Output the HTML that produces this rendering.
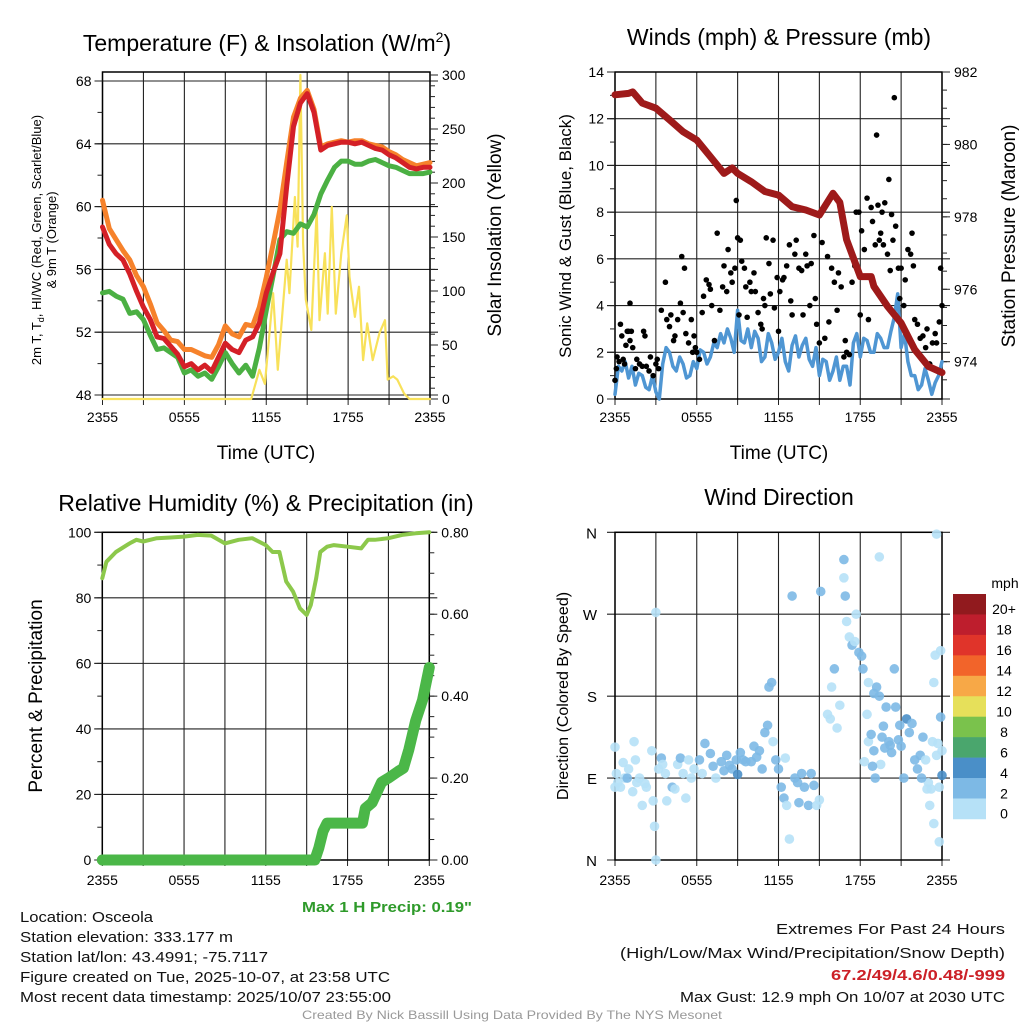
<!DOCTYPE html>
<html><head><meta charset="utf-8"><style>
html,body{margin:0;padding:0;background:#fff;}
svg{display:block;font-family:"Liberation Sans",sans-serif;}
</style></head><body>
<svg id="chart" width="1024" height="1024" viewBox="0 0 1024 1024" xmlns="http://www.w3.org/2000/svg">
<rect width="1024" height="1024" fill="#fff"/>
<g id="layer"></g>
<text x="267" y="51" font-size="23" text-anchor="middle">Temperature (F) &amp; Insolation (W/m<tspan font-size="14" dy="-9">2</tspan><tspan dy="9">)</tspan></text>
<text x="779" y="45" font-size="23" text-anchor="middle">Winds (mph) &amp; Pressure (mb)</text>
<text x="266" y="511" font-size="23" text-anchor="middle">Relative Humidity (%) &amp; Precipitation (in)</text>
<text x="779" y="505" font-size="23" text-anchor="middle">Wind Direction</text>
<text x="266" y="459" font-size="19" text-anchor="middle">Time (UTC)</text>
<text x="779" y="459" font-size="19" text-anchor="middle">Time (UTC)</text>
<text font-size="13" text-anchor="middle" transform="translate(41,240) rotate(-90)">2m T, T<tspan font-size="9" dy="3">d</tspan><tspan dy="-3">, HI/WC (Red, Green, Scarlet/Blue)</tspan></text>
<text font-size="13" text-anchor="middle" transform="translate(56,240) rotate(-90)">&amp; 9m T (Orange)</text>
<text font-size="19" text-anchor="middle" transform="translate(501,235) rotate(-90)">Solar Insolation (Yellow)</text>
<text font-size="17" text-anchor="middle" transform="translate(571,236) rotate(-90)">Sonic Wind &amp; Gust (Blue, Black)</text>
<text font-size="19" text-anchor="middle" transform="translate(1015,236) rotate(-90)">Station Pressure (Maroon)</text>
<text font-size="19" text-anchor="middle" transform="translate(42,696) rotate(-90)">Percent &amp; Precipitation</text>
<text font-size="16" text-anchor="middle" transform="translate(568,696) rotate(-90)">Direction (Colored By Speed)</text>
<text x="302" y="912" font-size="15" font-weight="bold" fill="#2e9a2a" textLength="170" lengthAdjust="spacingAndGlyphs">Max 1 H Precip: 0.19"</text>
<g font-size="15" fill="#111">
<text x="20" y="922" textLength="133" lengthAdjust="spacingAndGlyphs">Location: Osceola</text>
<text x="20" y="942" textLength="213" lengthAdjust="spacingAndGlyphs">Station elevation: 333.177 m</text>
<text x="20" y="962" textLength="248" lengthAdjust="spacingAndGlyphs">Station lat/lon: 43.4991; -75.7117</text>
<text x="20" y="982" textLength="370" lengthAdjust="spacingAndGlyphs">Figure created on Tue, 2025-10-07, at 23:58 UTC</text>
<text x="20" y="1002" textLength="371" lengthAdjust="spacingAndGlyphs">Most recent data timestamp: 2025/10/07 23:55:00</text>
<text x="776" y="934" textLength="229" lengthAdjust="spacingAndGlyphs">Extremes For Past 24 Hours</text>
<text x="620" y="958" textLength="385" lengthAdjust="spacingAndGlyphs">(High/Low/Max Wind/Precipitation/Snow Depth)</text>
<text x="831" y="980" fill="#cc2027" font-weight="bold" textLength="174" lengthAdjust="spacingAndGlyphs">67.2/49/4.6/0.48/-999</text>
<text x="680" y="1002" textLength="325" lengthAdjust="spacingAndGlyphs">Max Gust: 12.9 mph On 10/07 at 2030 UTC</text>
</g>
<text x="302" y="1019" font-size="12" fill="#999" textLength="420" lengthAdjust="spacingAndGlyphs">Created By Nick Bassill Using Data Provided By The NYS Mesonet</text>
</svg>
<script>
// ---------- data ----------
const hours = [0,0.5,1,1.5,2,2.5,3,3.5,4,4.5,5,5.5,6,6.5,7,7.5,8,8.5,9,9.5,10,10.5,11,11.5,12,12.5,13,13.5,14,14.5,15,15.5,16,16.5,17,17.5,18,18.5,19,19.5,20,20.5,21,21.5,22,22.5,23,23.5,24];
const tempRed = [58.7,57.6,57.0,56.6,55.7,54.6,53.6,52.8,51.7,51.6,51.1,50.6,49.8,50.0,49.6,49.9,49.5,50.4,51.3,50.9,50.7,51.5,51.7,52.6,54.5,55.8,57.0,61.3,65.1,66.6,67.2,66.0,63.6,63.9,64.0,64.1,64.1,64.0,64.1,63.9,63.7,63.6,63.3,63.1,62.8,62.5,62.4,62.5,62.5];
const tempOrange = [60.4,58.6,57.9,57.2,56.6,55.6,54.9,53.8,52.6,52.1,51.5,51.4,50.9,50.9,50.7,50.5,50.4,51.2,52.4,51.9,51.7,52.5,52.4,53.6,55.5,57.6,59.8,62.8,65.7,66.9,67.4,66.2,63.8,64.0,64.1,64.2,64.1,64.2,64.2,64.0,63.9,63.8,63.5,63.3,63.0,62.8,62.6,62.7,62.8];
const tempGreen = [54.5,54.6,54.3,54.1,53.2,53.3,52.8,51.8,50.9,51.0,50.7,50.4,49.4,49.6,49.2,49.4,49.0,49.8,50.7,50.0,49.4,49.9,49.2,51.0,53.4,55.6,57.9,58.4,58.3,58.9,58.7,59.5,60.8,61.7,62.5,62.9,62.9,62.7,62.7,62.9,63.0,62.8,62.6,62.5,62.3,62.1,62.1,62.1,62.2];
const solarTimes = [0,10.9,11.5,11.9,12.5,12.85,13.5,13.7,14.1,14.3,14.5,14.7,14.9,15.3,15.7,15.9,16.3,16.5,16.8,17.1,17.5,17.9,18.1,18.5,18.8,19.1,19.4,19.8,20.3,20.7,20.9,21.3,21.6,22.1,22.5,24];
const solarValues = [0,0,27,14,98,27,129,98,187,141,300,144,92,64,175,73,135,79,178,79,135,170,113,76,104,36,70,36,61,73,18,21,18,5,0,0];
const pressTimes = [0,1,1.3,2,3,4,5,6,7,8,8.6,9,10,11,12,13,14,15,16,16.5,17,18,18.8,19,20,21,22,23,24];
const pressValues = [981.37,981.41,981.45,981.14,981.0,980.68,980.35,980.12,979.66,979.2,979.35,979.2,978.97,978.7,978.6,978.28,978.19,978.05,978.65,978.4,977.37,976.35,976.35,976.08,975.53,975.07,974.33,973.87,973.7];
const windTimes = [0,0.25,0.5,0.75,1,1.25,1.5,1.75,2,2.25,2.5,2.75,3,3.25,3.5,3.75,4,4.25,4.5,4.75,5,5.25,5.5,5.75,6,6.25,6.5,6.75,7,7.25,7.5,7.75,8,8.25,8.5,8.75,9,9.25,9.5,9.75,10,10.25,10.5,10.75,11,11.25,11.5,11.75,12,12.25,12.5,12.75,13,13.25,13.5,13.75,14,14.25,14.5,14.75,15,15.25,15.5,15.75,16,16.25,16.5,16.75,17,17.25,17.5,17.75,18,18.25,18.5,18.75,19,19.25,19.5,19.75,20,20.25,20.5,20.75,21,21.25,21.5,21.75,22,22.25,22.5,22.75,23,23.25,23.5,23.75,24];
const windValues = [0.2,1.4,1.2,1.6,0.9,1.4,0.6,1.1,1.0,0.5,0.4,1.0,0.3,0.0,1.5,2.2,2.0,1.4,1.2,1.8,1.5,0.9,1.0,1.6,1.3,2.1,2.0,1.5,1.8,2.4,2.2,2.8,2.4,3.0,2.6,2.0,3.8,2.5,2.4,3.0,2.2,2.9,2.6,1.6,1.8,2.8,2.4,1.7,2.0,2.6,1.6,1.2,2.3,2.7,1.8,2.3,2.6,1.7,1.4,2.2,1.0,1.7,1.6,0.8,1.2,1.8,0.8,1.4,1.4,0.6,2.4,2.8,1.8,2.6,2.5,2.0,2.0,2.8,2.6,2.2,2.2,2.9,3.5,4.5,2.2,2.8,1.6,1.0,1.0,0.4,0.6,1.3,0.8,0.2,0.7,1.0,1.6];
const gustObs = [[0,0.8],[0.1,1.3],[0.15,1.8],[0.3,1.6],[0.4,3.2],[0.5,2.7],[0.6,1.7],[0.7,1.5],[0.8,2.3],[0.9,2.9],[1.0,2.9],[1.1,2.5],[1.2,2.9],[1.1,4.1],[1.3,2.2],[1.5,1.3],[1.6,1.7],[1.8,1.5],[2.0,1.4],[2.1,2.9],[2.2,2.7],[2.3,1.4],[2.5,1.2],[2.6,1.8],[2.8,1.0],[3.0,1.5],[3.1,1.7],[3.2,1.3],[3.4,3.8],[3.7,5.0],[3.8,3.4],[4.0,3.1],[4.1,3.6],[4.3,2.5],[4.4,2.7],[4.6,3.4],[4.8,4.1],[4.9,6.1],[5.0,3.7],[5.1,5.6],[5.2,2.8],[5.4,2.4],[5.6,3.4],[5.7,2.0],[5.8,2.7],[5.9,2.2],[6.0,2.0],[6.2,1.7],[6.4,3.7],[6.5,4.4],[6.7,5.1],[6.9,4.9],[7.0,4.7],[7.1,4.0],[7.3,2.5],[7.5,7.1],[7.7,3.8],[7.9,4.8],[8.0,5.7],[8.2,4.6],[8.3,6.4],[8.5,5.4],[8.6,5.0],[8.8,5.6],[8.9,8.5],[9.0,6.9],[9.1,3.6],[9.2,6.8],[9.3,5.9],[9.5,5.6],[9.6,4.8],[9.7,3.5],[9.9,5.0],[10.0,4.6],[10.2,5.4],[10.3,4.6],[10.5,3.7],[10.7,3.2],[10.8,3.0],[10.9,4.3],[11.0,4.0],[11.1,6.9],[11.3,5.8],[11.4,4.5],[11.6,6.8],[11.7,3.9],[11.9,5.2],[12.0,2.9],[12.1,4.6],[12.3,5.1],[12.4,5.2],[12.6,5.7],[12.8,6.6],[12.9,4.2],[13.0,3.6],[13.2,6.2],[13.3,6.8],[13.5,5.6],[13.7,5.5],[13.8,3.6],[14.0,6.2],[14.1,5.7],[14.3,4.0],[14.4,5.8],[14.6,7.0],[14.7,4.3],[14.8,3.2],[15.0,2.4],[15.2,6.7],[15.4,2.6],[15.6,6.1],[15.7,3.3],[15.9,5.6],[16.1,5.0],[16.3,3.8],[16.4,5.4],[16.6,4.8],[16.8,1.8],[16.9,2.5],[17.0,2.0],[17.2,1.9],[17.4,5.0],[17.6,5.7],[17.7,8.0],[17.9,8.0],[18.0,3.6],[18.1,7.2],[18.3,6.4],[18.5,8.6],[18.6,3.4],[18.8,8.2],[18.9,7.6],[19.1,6.6],[19.2,11.3],[19.3,8.3],[19.4,6.8],[19.5,7.1],[19.6,8.0],[19.7,6.6],[19.8,8.4],[20.0,6.2],[20.1,9.4],[20.2,5.5],[20.3,7.9],[20.4,6.8],[20.5,12.9],[20.6,7.4],[20.8,5.6],[20.9,4.3],[21.0,5.6],[21.2,4.0],[21.3,5.1],[21.5,6.4],[21.7,6.2],[21.8,7.1],[21.9,5.7],[22.0,3.4],[22.2,3.2],[22.4,2.6],[22.6,2.7],[22.8,2.2],[22.9,3.0],[23.1,1.5],[23.3,2.4],[23.5,2.8],[23.6,2.4],[23.8,3.3],[23.9,5.6],[24.0,4.0]];
const rhTimes = [0,0.3,1,2,2.5,3,4,5,6,7,8,9,10,11,12,12.5,13,13.5,14,14.5,15,15.3,15.7,16,16.5,17,18,19,19.5,20,21,22,23,24];
const rhValues = [86,91,94,96.6,97.7,97.2,98.2,98.4,98.7,99.2,99,96.6,97.7,98.2,96.1,94,94,85,81.9,76.8,74.8,77.8,86,94,95.6,96.1,95.6,95.1,97.7,97.7,98.2,99.2,99.7,100];
const precipTimes = [0,15.6,15.9,16.2,16.5,17,18,19.1,19.3,19.8,20.5,21,21.7,22.1,22.5,23,23.5,24];
const precipValues = [0,0,0.03,0.07,0.09,0.09,0.09,0.09,0.126,0.14,0.19,0.2,0.216,0.224,0.27,0.34,0.39,0.47];
// [hour, degrees, speed mph]
const dirObs = [[0,80,1],[0,124,1],[0.1,95,1],[0.2,85,1],[0.4,80,1],[0.6,107,1],[0.7,90,1],[0.9,90,3],[1.0,100,1],[1.3,75,1],[1.4,130,1],[1.5,110,1],[1.6,85,1],[1.8,90,1],[2.2,84,1],[2.0,60,1],[2.3,80,1],[2.7,120,1],[2.8,65,1],[2.9,37,1],[3.0,272,1],[3.0,0,1],[3.2,100,1],[3.4,112,3],[3.5,105,1],[3.7,95,1],[3.8,65,1],[4.2,80,3],[4.4,78,1],[4.6,105,1],[4.8,112,3],[5.0,95,1],[5.2,68,1],[5.4,110,1],[5.6,90,1],[5.8,100,1],[6.2,110,3],[6.4,95,1],[6.6,128,3],[7.0,117,3],[7.2,103,3],[7.4,90,1],[7.8,108,3],[8.0,98,3],[8.2,115,3],[8.4,104,3],[8.6,100,3],[8.9,110,3],[9.0,94,5],[9.2,118,3],[9.4,110,3],[9.6,108,3],[10.0,108,3],[10.2,125,3],[10.4,113,3],[10.6,120,3],[10.8,100,3],[11.0,140,3],[11.2,148,3],[11.3,190,3],[11.5,195,3],[11.6,130,1],[11.8,110,3],[12.0,100,3],[12.2,80,3],[12.4,68,3],[12.5,112,1],[12.6,60,1],[12.8,23,1],[13.0,290,3],[13.2,90,3],[13.4,85,3],[13.5,63,3],[13.7,95,3],[13.9,80,3],[14.2,60,3],[14.4,95,3],[14.6,82,3],[14.8,60,1],[15.0,66,1],[15.1,295,3],[15.6,160,1],[15.8,155,1],[15.9,190,1],[16.1,210,3],[16.3,145,1],[16.5,170,1],[16.8,330,3],[16.9,290,3],[16.8,310,1],[17.0,262,1],[17.2,245,1],[17.4,236,3],[17.6,240,1],[17.9,228,3],[18.1,224,3],[17.7,270,1],[18.2,210,3],[18.3,108,1],[18.5,160,1],[18.6,130,1],[18.8,138,3],[19.0,120,3],[19.1,90,3],[19.2,190,3],[19.4,333,1],[19.6,135,3],[19.8,123,3],[19.9,168,3],[20.1,130,3],[20.3,118,3],[20.5,210,3],[20.6,168,3],[20.8,132,3],[21.0,125,3],[21.2,90,3],[21.4,155,5],[21.6,140,3],[21.8,150,3],[22.0,110,3],[22.2,100,3],[22.4,115,3],[22.6,135,3],[22.8,110,1],[23.0,85,1],[23.1,60,1],[23.2,78,1],[23.4,40,1],[23.6,115,1],[23.7,128,1],[23.8,80,1],[23.9,157,3],[24.0,93,5],[24.0,120,1],[23.3,130,1],[23.5,225,1],[23.4,195,1],[23.8,20,1],[23.6,358,1],[23.9,230,1],[22.9,78,1],[22.5,90,3],[19.5,105,1],[18.9,103,3],[19.7,147,3],[20.9,148,3],[20.2,126,3],[18.6,195,1],[19.0,183,3],[19.4,180,3]];
const tempTicks = [48,52,56,60,64,68];
const solarTicks = [0,50,100,150,200,250,300];
const windTicks = [0,2,4,6,8,10,12,14];
const pressTicks = [974,976,978,980,982];
const rhTicks = [0,20,40,60,80,100];
const precipTicks = [0,0.2,0.4,0.6,0.8];
const dirTickLabels = ["N","E","S","W","N"];
const timeLabels = ["2355","0555","1155","1755","2355"];
const speedLabels = ["0","2","4","6","8","10","12","14","16","18","20+"];
const speedColors = ["#b6e1f7","#7db9e5","#4a8fc8","#4aa66d","#7ac24c","#e6e05a","#f7a847","#f2642a","#e0342a","#be1e2d","#911a1e"];

// ---------- helpers ----------
const NS="http://www.w3.org/2000/svg";
const layer=document.getElementById('layer');
function mk(tag,attrs,parent){const e=document.createElementNS(NS,tag);for(const k in attrs)e.setAttribute(k,attrs[k]);(parent||layer).appendChild(e);return e;}
function lin(d0,d1,r0,r1){return v=>r0+(v-d0)*(r1-r0)/(d1-d0);}
function speedColor(s){return speedColors[Math.min(10,Math.floor(s/2))];}

function panelFrame(x0,x1,y0,y1,name,hGrid,labelY){
  const xs=lin(0,24,x0,x1);
  const g=mk('g',{});
  
  
  for(let h=0;h<=24;h+=3){
    const x=xs(h);
    mk('line',{x1:x,x2:x,y1:y0,y2:y1,stroke:'#222','stroke-width':1.1},g);
    mk('line',{x1:x,x2:x,y1:y1,y2:y1+6,stroke:'#222','stroke-width':1},g);
  }
  hGrid.forEach(y=>{mk('line',{x1:x0-8,x2:x1+8,y1:y,y2:y,stroke:'#222','stroke-width':1.1},g);});
  const b=mk('rect',{x:x0,y:y0,width:x1-x0,height:y1-y0,fill:'none',stroke:'#000','stroke-width':1.5},g);
  
  
  timeLabels.forEach((t,i)=>{
    const tx=mk('text',{x:xs(i*6),y:labelY,'font-size':14,'text-anchor':'middle'});
    
    
    tx.textContent=t;
  });
  return xs;
}
function path(xs,ys,xa,ya,attrs,name){
  let d='';const n=Math.min(xa.length,ya.length);
  for(let i=0;i<n;i++){d+=(i?'L':'M')+xs(xa[i]).toFixed(1)+','+ys(ya[i]).toFixed(1);}
  const p=mk('path',Object.assign({d:d,fill:'none','stroke-linejoin':'round','stroke-linecap':'round'},attrs));
  
  
  return p;
}
function leftTicks(x,vals,ys,fmt,name,minorStep,lo,hi){
  for(let v=lo;v<=hi+1e-9;v+=minorStep) mk('line',{x1:x-5,x2:x,y1:ys(v),y2:ys(v),stroke:'#222'});
  vals.forEach(v=>{
    mk('line',{x1:x-8,x2:x,y1:ys(v),y2:ys(v),stroke:'#222'});
    const t=mk('text',{x:x-11,y:ys(v)+5,'font-size':14,'text-anchor':'end'});
    
    
    t.textContent=fmt(v);
  });
}
function rightTicks(x,vals,ys,fmt,name,minorStep,lo,hi){
  for(let v=lo;v<=hi+1e-9;v+=minorStep) mk('line',{x1:x,x2:x+5,y1:ys(v),y2:ys(v),stroke:'#222'});
  vals.forEach(v=>{
    mk('line',{x1:x,x2:x+8,y1:ys(v),y2:ys(v),stroke:'#222'});
    const t=mk('text',{x:x+12,y:ys(v)+5,'font-size':14,'text-anchor':'start'});
    
    
    t.textContent=fmt(v);
  });
}

// ---------- panel 1 ----------
{
  const yT=lin(48,68,395,81), yS=lin(0,300,399,75);
  const xs=panelFrame(102.5,430,72,399,'temperature',tempTicks.map(yT),422);
  leftTicks(102.5,tempTicks,yT,v=>v,'temp-y-tick-label',2,48,68);
  rightTicks(430,solarTicks,yS,v=>v,'solar-y-tick-label',10,0,300);
  path(xs,yS,solarTimes,solarValues,{stroke:'#f8e15a','stroke-width':2.2},'solar-insolation-line');
  path(xs,yT,hours,tempOrange,{stroke:'#f6822b','stroke-width':5},'9m-temperature-line');
  path(xs,yT,hours,tempGreen,{stroke:'#4bb043','stroke-width':5},'dewpoint-line');
  path(xs,yT,hours,tempRed,{stroke:'#d42027','stroke-width':5},'2m-temperature-line');
}
// ---------- panel 2 ----------
{
  const yW=lin(0,14,399,72), yP=lin(974,982,361.7,72);
  const xs=panelFrame(615,942,72,399,'wind',windTicks.map(yW),422);
  leftTicks(615,windTicks,yW,v=>v,'wind-y-tick-label',1,0,14);
  rightTicks(942,pressTicks,yP,v=>v,'pressure-y-tick-label',0.5,973.5,982);
  path(xs,yW,windTimes,windValues,{stroke:'#4f96d3','stroke-width':3.5},'sustained-wind-line');
  gustObs.forEach(o=>{
    const c=mk('circle',{cx:xs(o[0]),cy:yW(o[1]),r:2.8,fill:'#000'});
    
    
  });
  path(xs,yP,pressTimes,pressValues,{stroke:'#9e1a1a','stroke-width':7},'pressure-line');
}
// ---------- panel 3 ----------
{
  const yR=lin(0,100,860,532.3), yQ=lin(0,0.8,860,532.3);
  const xs=panelFrame(102.3,429.3,532.3,860,'humidity',rhTicks.map(yR),885);
  leftTicks(102.3,rhTicks,yR,v=>v,'rh-y-tick-label',10,0,100);
  rightTicks(429.3,precipTicks,yQ,v=>v.toFixed(2),'precip-y-tick-label',0.05,0,0.8);
  path(xs,yR,rhTimes,rhValues,{stroke:'#8cc84b','stroke-width':4},'relative-humidity-line');
  path(xs,yQ,precipTimes,precipValues,{stroke:'#4bb748','stroke-width':11},'precipitation-line');
}
// ---------- panel 4 ----------
{
  const yD=lin(0,360,860,532.3);
  const xs=panelFrame(615,942,532.3,860,'direction',[0,90,180,270,360].map(yD),885);
  dirTickLabels.forEach((l,i)=>{
    const t=mk('text',{x:597,y:yD(i*90)+6,'font-size':15,'text-anchor':'end'});
    
    
    t.textContent=l;
  });
  dirObs.forEach(o=>{
    const c=mk('circle',{cx:xs(o[0]),cy:yD(o[1]),r:4.8,fill:speedColor(o[2]),'fill-opacity':0.9});
    
    
  });
  const cb=mk('g',{});
  
  
  const top=594, h=20.45;
  speedColors.forEach((c,i)=>{
    const k=10-i;
    mk('rect',{x:953,y:top+i*h,width:33,height:h+0.3,fill:speedColors[k]},cb);
    const t=mk('text',{x:1004,y:top+i*h+h/2+10,'font-size':14,'text-anchor':'middle'},cb);
    
    
    t.textContent=speedLabels[k];
  });
  const u=mk('text',{x:1005,y:588,'font-size':14,'text-anchor':'middle'},cb);
  
  
  u.textContent='mph';
}
</script>
</body></html>
